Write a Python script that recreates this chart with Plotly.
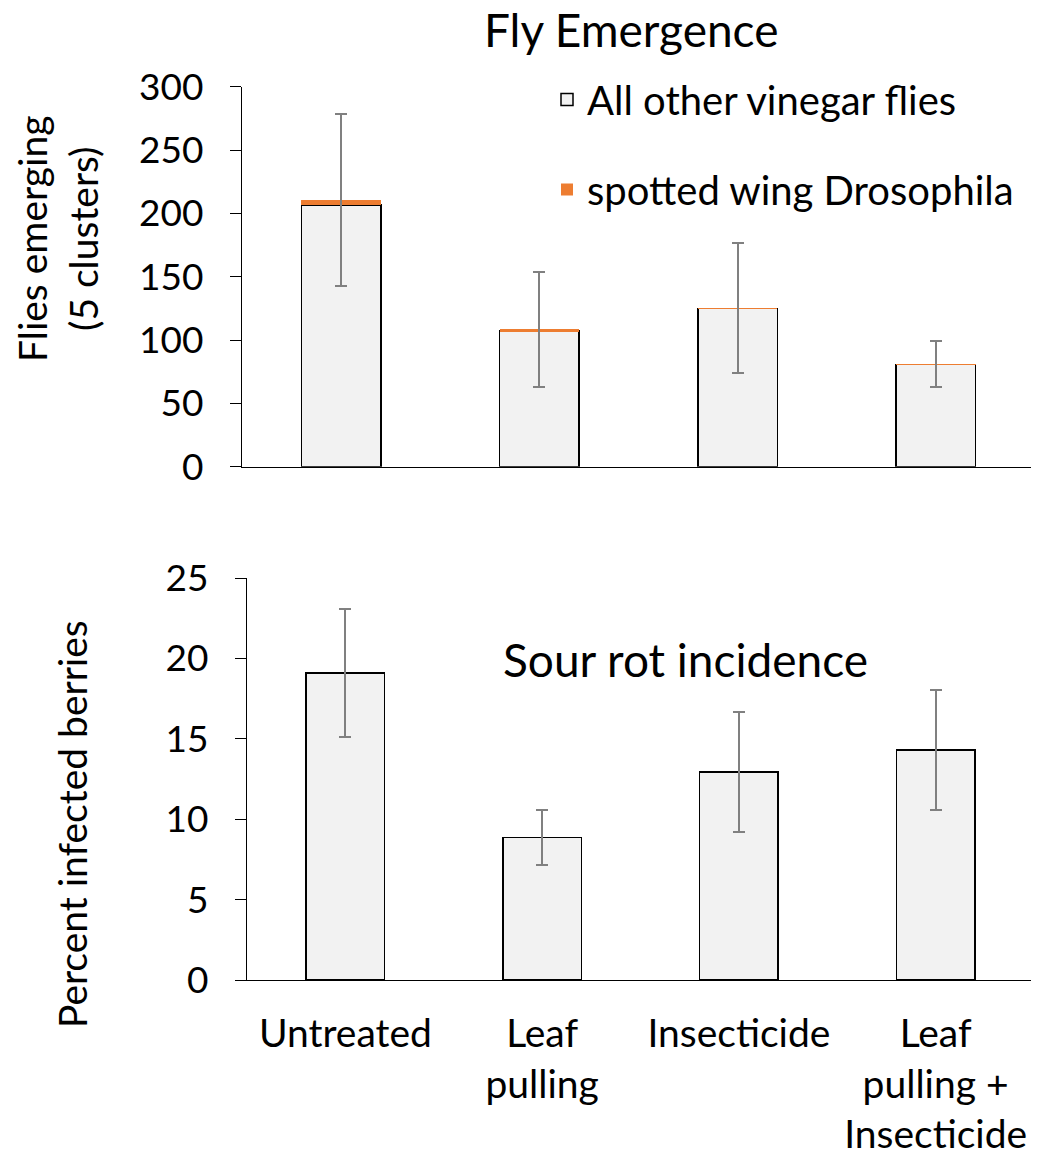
import plotly.graph_objects as go

categories = ["Untreated", "Leaf pulling", "Insecticide", "Leaf pulling + Insecticide"]
tick_text = ["Untreated", "Leaf<br>pulling", "Insecticide", "Leaf<br>pulling +<br>Insecticide"]

other_flies = [206.6, 107.1, 124.8, 80.7]
swd_flies = [4.2, 1.5, 0.7, 0.6]
fly_err = [68, 45.5, 51.5, 18]

sour_rot = [19.1, 8.85, 12.95, 14.3]
sour_rot_err = [3.96, 1.7, 3.73, 3.73]

FONT = "Lato"
FS = 40
XTICKFS = 39
TICKFS = 37
TITLEFS = 46
GRAY = "#F2F2F2"
ORANGE = "#ED7D31"
ERRC = "#808080"

W, H = 1039, 1157
OFF = 8  # page body margin offset


def px(x):
    return (x - OFF) / W


def py(y):
    return 1 - (y - OFF) / H


fig = go.Figure()

fig.add_trace(go.Bar(
    x=categories, y=other_flies, name="All other vinegar flies",
    marker=dict(color=GRAY, line=dict(color="black", width=1.5)),
    width=0.4, xaxis="x", yaxis="y", legendgroup="a", showlegend=True,
))
fig.add_trace(go.Bar(
    x=categories, y=swd_flies, name="spotted wing Drosophila",
    marker=dict(color=ORANGE, line=dict(color=ORANGE, width=0)),
    width=0.4, xaxis="x", yaxis="y", legendgroup="b", showlegend=True,
    error_y=dict(type="data", array=fly_err, visible=True, color=ERRC, thickness=2, width=6),
))
fig.add_trace(go.Bar(
    x=categories, y=sour_rot, name="Sour rot",
    marker=dict(color=GRAY, line=dict(color="black", width=1.5)),
    width=0.4, xaxis="x2", yaxis="y2", showlegend=False,
    error_y=dict(type="data", array=sour_rot_err, visible=True, color=ERRC, thickness=2, width=6),
))

line_common = dict(showgrid=False, zeroline=False, linecolor="black", linewidth=1.3,
                   automargin=False)
tickfont = dict(family=FONT, size=TICKFS, color="black")

fig.update_layout(
    width=W, height=H,
    margin=dict(l=0, r=0, t=0, b=0, autoexpand=False),
    paper_bgcolor="white", plot_bgcolor="white",
    barmode="stack",
    font=dict(family=FONT, size=FS, color="black"),
    xaxis=dict(domain=[px(242), px(1035)], anchor="y", type="category",
               categoryorder="array", categoryarray=categories,
               range=[-0.5, 3.5], showline=True, showticklabels=False, ticks="",
               **line_common),
    yaxis=dict(domain=[py(466.7), py(86.7)], anchor="x", range=[0, 300],
               tickvals=[0, 50, 100, 150, 200, 250, 300], showline=True,
               ticks="outside", ticklen=11, tickcolor="black", tickwidth=1.3,
               ticklabelstandoff=19, tickfont=tickfont, **line_common),
    xaxis2=dict(domain=[px(247), px(1034)], anchor="y2", type="category",
                categoryorder="array", categoryarray=categories,
                range=[-0.5, 3.5], showline=True, ticks="",
                tickvals=categories, ticktext=tick_text, ticklabelstandoff=19,
                tickfont=dict(family=FONT, size=XTICKFS, color="black"), **line_common),
    yaxis2=dict(domain=[py(980), py(578)], anchor="x2", range=[0, 25],
                tickvals=[0, 5, 10, 15, 20, 25], showline=True,
                ticks="outside", ticklen=11, tickcolor="black", tickwidth=1.3,
                ticklabelstandoff=19, tickfont=tickfont, **line_common),
    legend=dict(x=px(547), y=py(67), xanchor="left", yanchor="top",
                traceorder="grouped", tracegroupgap=35,
                font=dict(family=FONT, size=FS, color="black"),
                bgcolor="rgba(0,0,0,0)", itemwidth=30),
    annotations=[
        dict(text="Fly Emergence", x=px(631), y=py(29), xref="paper", yref="paper",
             showarrow=False, xanchor="center", yanchor="middle", borderpad=0,
             font=dict(family=FONT, size=TITLEFS, color="black")),
        dict(text="Sour rot incidence", x=px(685), y=py(660), xref="paper", yref="paper",
             showarrow=False, xanchor="center", yanchor="middle",
             font=dict(family=FONT, size=TITLEFS, color="black")),
        dict(text="Flies emerging<br>(5 clusters)", x=px(57), y=py(239),
             xref="paper", yref="paper", showarrow=False, textangle=-90,
             xanchor="center", yanchor="middle",
             font=dict(family=FONT, size=FS - 1, color="black")),
        dict(text="Percent infected berries", x=px(72), y=py(824),
             xref="paper", yref="paper", showarrow=False, textangle=-90,
             xanchor="center", yanchor="middle",
             font=dict(family=FONT, size=FS - 1, color="black")),
    ],
)

fig.write_html("out.html")
